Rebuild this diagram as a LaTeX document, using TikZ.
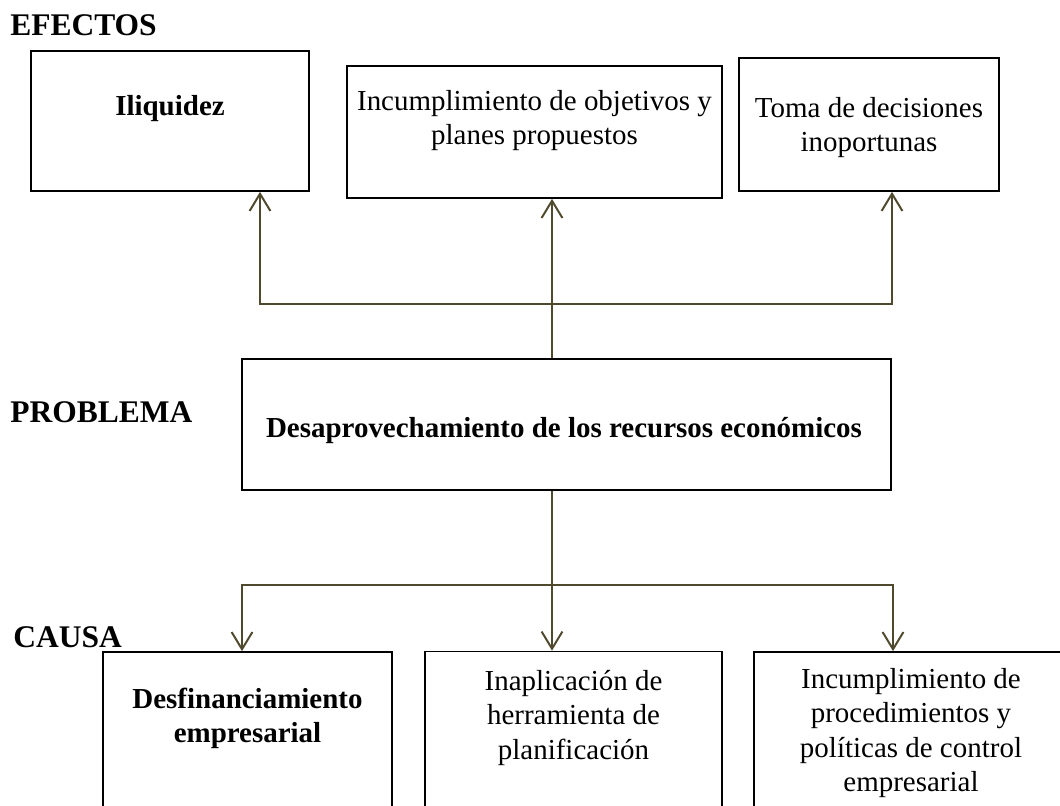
\documentclass[tikz,border=0pt]{standalone}
\usepackage{fontspec}
\setmainfont{Liberation Serif}
\usetikzlibrary{arrows.meta}
\definecolor{linkcol}{RGB}{79,73,45}
\newcommand{\boxfont}{\fontsize{20.6pt}{24.4pt}\selectfont}
\newcommand{\lblfont}{\fontsize{22.4pt}{26pt}\selectfont\bfseries}

\begin{document}
\begin{tikzpicture}[x=0.025cm,y=-0.025cm]
		\useasboundingbox (0,0) rectangle (1060,806);
		\clip (0,0) rectangle (1060,806);

		\begin{scope}[every node/.style={inner sep=0pt,anchor=base west,font=\lblfont}]
			\node (efectos) at (10,36) {EFECTOS};
			\node (problema) at (10,423) {PROBLEMA};
			\node (causa) at (13,647) {CAUSA};
		\end{scope}

		\begin{scope}[every node/.style={rectangle,draw=black,line width=1.2pt}]
			\node[minimum width=6.95cm,minimum height=3.5cm] (eff1) at (170,121) {};
			\node[minimum width=9.375cm,minimum height=3.3cm] (eff2) at (534.5,132) {};
			\node[minimum width=6.5cm,minimum height=3.325cm] (eff3) at (869,124.5) {};
			\node[minimum width=16.225cm,minimum height=3.275cm] (prob) at (566.5,424.5) {};
			\node[minimum width=7.225cm,minimum height=4.45cm] (cau1) at (247.5,741) {};
			\node[minimum width=7.425cm,minimum height=4.45cm] (cau2) at (573.5,740.5) {};
			\node[minimum width=7.85cm,minimum height=4.45cm] (cau3) at (911,741) {};
		\end{scope}

		\begin{scope}[every node/.style={inner sep=0pt,anchor=north,align=center,font=\boxfont}]
			\node[font=\boxfont\bfseries] (eff1txt) at (170,95) {Iliquidez};
			\node (eff2txt) at (534.5,90) {Incumplimiento de objetivos y\\planes propuestos};
			\node (eff3txt) at (869,97) {Toma de decisiones\\inoportunas};
			\node[anchor=base,font=\boxfont\bfseries] (probtxt) at (564,438) {Desaprovechamiento de los recursos económicos};
			\node[font=\boxfont\bfseries] (cau1txt) at (247.5,688) {Desfinanciamiento\\empresarial};
			\node (cau2txt) at (573.5,670) {Inaplicación de\\herramienta de\\planificación};
			\node (cau3txt) at (911,668) {Incumplimiento de\\procedimientos y\\políticas de control\\empresarial};
		\end{scope}

		\coordinate (tl) at (260,304);
		\coordinate (tm) at (552,304);
		\coordinate (tr) at (892,304);
		\coordinate (bl) at (242,585);
		\coordinate (bm) at (552,585);
		\coordinate (br) at (893,585);

		\begin{scope}[every edge/.style={draw=linkcol, line width=1.4pt}]
			\path [-, line cap=rect] (tl) edge (tr);
			\path [-, line cap=rect] (bl) edge (br);
			\path [-{Straight Barb[length=4.3mm,width=5.2mm]}] (tl) edge (tl |- eff1.south);
			\path [-{Straight Barb[length=4.3mm,width=5.2mm]}] (tm |- prob.north) edge (tm |- eff2.south);
			\path [-{Straight Barb[length=4.3mm,width=5.2mm]}] (tr) edge (tr |- eff3.south);
			\path [-{Straight Barb[length=4.3mm,width=5.2mm]}] (bl) edge (bl |- cau1.north);
			\path [-{Straight Barb[length=4.3mm,width=5.2mm]}] (bm |- prob.south) edge (bm |- cau2.north);
			\path [-{Straight Barb[length=4.3mm,width=5.2mm]}] (br) edge (br |- cau3.north);
		\end{scope}

	\end{tikzpicture}
\end{document}
